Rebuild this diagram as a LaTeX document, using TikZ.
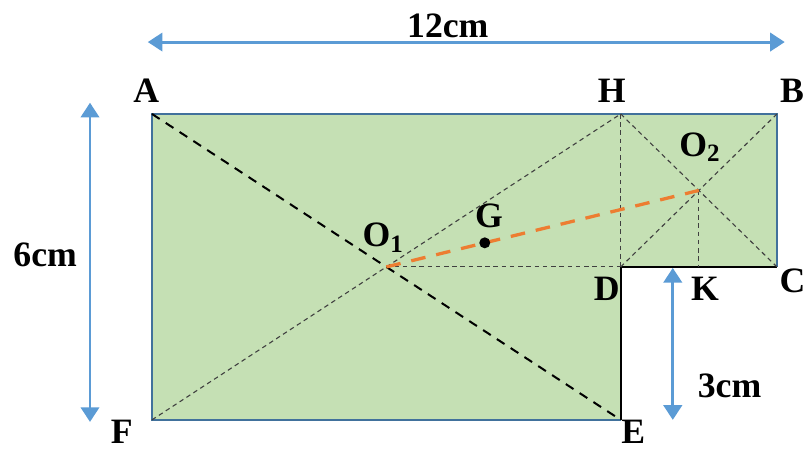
\documentclass[tikz,border=0pt]{standalone}
\usepackage{fontspec}
\setmainfont{Liberation Serif}
\usetikzlibrary{arrows.meta, calc}
\definecolor{shapegreen}{HTML}{C5E0B4}
\definecolor{edgeblue}{HTML}{41719C}
\definecolor{dimblue}{HTML}{5B9BD5}
\definecolor{linkorange}{HTML}{ED7D31}
\tikzstyle{pointlabel} = [font=\fontsize{19.5}{20}\selectfont\bfseries, inner sep=0pt]
\tikzstyle{dimarrow}   = [dimblue, line width=1.6pt,
                          {Triangle[length=8pt,width=10pt]}-{Triangle[length=8pt,width=10pt]}]
\tikzstyle{guide}      = [black!75, line width=0.6pt, dash pattern=on 2.5pt off 2pt]
\tikzstyle{diag}       = [black, line width=1.1pt, dash pattern=on 5pt off 4pt]
\tikzstyle{median}     = [linkorange, line width=1.8pt, dash pattern=on 8pt off 6pt]

\begin{document}
\begin{tikzpicture}[y=0.979cm]
  \useasboundingbox (-2.918,-0.569) rectangle (12.577,8.235);

  % --- Corner points ---
  \coordinate (A) at (0,6);
  \coordinate (H) at (9,6);
  \coordinate (B) at (12,6);
  \coordinate (C) at (12,3);
  \coordinate (D) at (9,3);
  \coordinate (K) at (10.5,3);
  \coordinate (E) at (9,0);
  \coordinate (F) at (0,0);
  \coordinate (O1) at (4.5,3);
  \coordinate (O2) at (10.5,4.5);
  \coordinate (G) at ($(O1)!0.315!(O2)$);

  % --- Shape ---
  \fill[shapegreen] (A) -- (B) -- (C) -- (D) -- (E) -- (F) -- cycle;
  \draw[edgeblue, line width=1.1pt] (C) -- (B) -- (A) -- (F) -- (E);
  \draw[black, line width=1.1pt] (C) -- (D) -- (E);

  % --- Construction lines ---
  \draw[guide] (F) -- (H);
  \draw[guide] (H) -- (C);
  \draw[guide] (B) -- (D);
  \draw[guide] (H) -- (D);
  \draw[guide] (O1) -- (D);
  \draw[guide] (O2) -- (K);
  \draw[diag] (A) -- (E);
  \draw[median] (O1) -- (O2);
  \fill[black] (G) circle (3pt);

  % --- Dimensions ---
  \coordinate (w1) at (-0.08,7.41);
  \coordinate (w2) at (12.15,7.41);
  \coordinate (h1) at (-1.19,6.22);
  \coordinate (h2) at (-1.19,-0.04);
  \coordinate (s1) at (10.0,2.98);
  \coordinate (s2) at (10.0,0.0);
  \draw[dimarrow] (w1) -- (w2);
  \draw[dimarrow] (h1) -- (h2);
  \draw[dimarrow] (s1) -- (s2);
  \node (w_lbl) [pointlabel] at (5.68,7.73) {12cm};
  \node (h_lbl) [pointlabel] at (-2.05,3.24) {6cm};
  \node (s_lbl) [pointlabel] at (11.09,0.66) {3cm};

  % --- Labels ---
  \node (A_lbl) [pointlabel] at (-0.11,6.45) {A};
  \node (H_lbl) [pointlabel] at (8.83,6.45) {H};
  \node (B_lbl) [pointlabel] at (12.29,6.45) {B};
  \node (C_lbl) [pointlabel] at (12.30,2.72) {C};
  \node (D_lbl) [pointlabel] at (8.73,2.57) {D};
  \node (K_lbl) [pointlabel] at (10.62,2.57) {K};
  \node (E_lbl) [pointlabel] at (9.24,-0.24) {E};
  \node (F_lbl) [pointlabel] at (-0.58,-0.24) {F};
  \node (O1_lbl) [pointlabel] at (4.44,3.57) {O\textsubscript{1}};
  \node (O2_lbl) [pointlabel] at (10.52,5.35) {O\textsubscript{2}};
  \node (G_lbl) [pointlabel] at (6.47,4.0) {G};

\end{tikzpicture}
\end{document}
